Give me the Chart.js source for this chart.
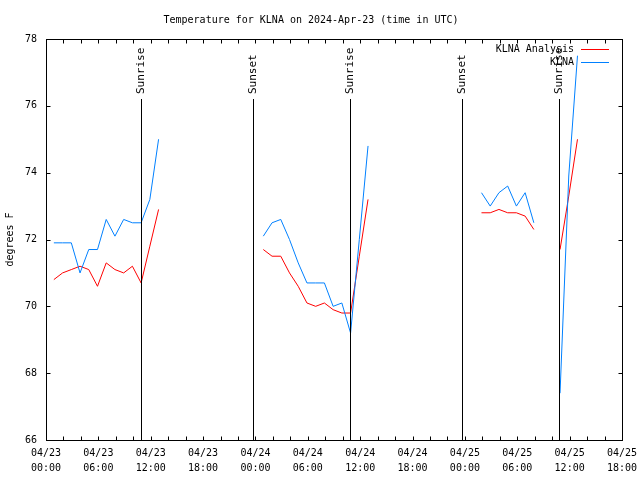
<!DOCTYPE html>
<html>
<head>
<meta charset="utf-8">
<title>Temperature for KLNA</title>
<script src="https://cdn.jsdelivr.net/npm/chart.js@4.4.1/dist/chart.umd.min.js"></script>
<style>
  body { margin: 0; background: #fff; }
  canvas { display: block; }
</style>
</head>
<body>
<canvas id="chart" width="640" height="480"></canvas>
<script>
// hours since 04/23 00:00 UTC, null temps = no data (breaks the line)
const hours = [
    0.9, 1.9, 2.9, 3.9, 4.9, 5.9, 6.9, 7.9, 8.9, 9.9, 10.9, 11.9, 12.9,
    18,
    24.9, 25.9, 26.9, 27.9, 28.9, 29.9, 30.9, 31.9, 32.9, 33.9, 34.9, 35.9, 36.9,
    42,
    49.9, 50.9, 51.9, 52.9, 53.9, 54.9, 55.9,
    57,
    58.9, 59.9, 60.9
];
const analysisTemps = [
    70.8, 71.0, 71.1, 71.2, 71.1, 70.6, 71.3, 71.1, 71.0, 71.2, 70.7, 71.8, 72.9,
    null,
    71.7, 71.5, 71.5, 71.0, 70.6, 70.1, 70.0, 70.1, 69.9, 69.8, 69.8, 71.5, 73.2,
    null,
    72.8, 72.8, 72.9, 72.8, 72.8, 72.7, 72.3,
    null,
    71.7, 73.3, 75.0
];
const obsTemps = [
    71.9, 71.9, 71.9, 71.0, 71.7, 71.7, 72.6, 72.1, 72.6, 72.5, 72.5, 73.2, 75.0,
    null,
    72.1, 72.5, 72.6, 72.0, 71.3, 70.7, 70.7, 70.7, 70.0, 70.1, 69.2, 72.0, 74.8,
    null,
    73.4, 73.0, 73.4, 73.6, 73.0, 73.4, 72.5,
    null,
    67.4, 73.9, 77.5
];
const sunriseHours = [10.92, 34.84, 58.81];
const sunsetHours = [23.72, 47.65];
const tickDates = ['04/23', '04/23', '04/23', '04/23', '04/24', '04/24', '04/24', '04/24', '04/25', '04/25', '04/25', '04/25'];
const tickTimes = ['00:00', '06:00', '12:00', '18:00', '00:00', '06:00', '12:00', '18:00', '00:00', '06:00', '12:00', '18:00'];

const mono = 'DejaVu Sans Mono';
Chart.defaults.color = '#000';
Chart.defaults.font.family = mono;
Chart.defaults.font.size = 10;

const toPoints = (temps) => hours.map((h, i) => ({ x: h, y: temps[i] }));

// frame, inward ticks, sunrise/sunset markers
const framePlugin = {
    id: 'frame',
    afterDatasetsDraw(chart) {
        const { ctx, chartArea: a, scales: { x, y } } = chart;
        ctx.save();
        ctx.strokeStyle = '#000';
        ctx.lineWidth = 1;

        const events = sunriseHours.map(h => [h, 'Sunrise']).concat(sunsetHours.map(h => [h, 'Sunset']));
        ctx.font = '11px ' + mono;
        ctx.fillStyle = '#000';
        events.forEach(([h, label]) => {
            const px = Math.round(x.getPixelForValue(h)) + 0.5;
            ctx.beginPath();
            ctx.moveTo(px, a.top + 60);
            ctx.lineTo(px, a.bottom);
            ctx.stroke();
            ctx.save();
            ctx.translate(px, a.top + 55);
            ctx.rotate(-Math.PI / 2);
            ctx.textAlign = 'left';
            ctx.textBaseline = 'middle';
            ctx.fillText(label, 0, 0);
            ctx.restore();
        });

        const l = Math.round(a.left) + 0.5, r = Math.round(a.right) + 0.5;
        const t = Math.round(a.top) + 0.5, b = Math.round(a.bottom) + 0.5;
        ctx.strokeRect(l, t, r - l, b - t);

        ctx.beginPath();
        for (let h = x.min; h <= x.max; h += 2) {
            const px = Math.round(x.getPixelForValue(h)) + 0.5;
            ctx.moveTo(px, b); ctx.lineTo(px, b - 4);
            ctx.moveTo(px, t); ctx.lineTo(px, t + 4);
        }
        y.ticks.forEach(tk => {
            const py = Math.round(y.getPixelForValue(tk.value)) + 0.5;
            ctx.moveTo(l, py); ctx.lineTo(l + 4, py);
            ctx.moveTo(r, py); ctx.lineTo(r - 4, py);
        });
        ctx.stroke();
        ctx.restore();
    },
    afterDraw(chart) {
        // gnuplot-style key: label right aligned, line sample to the right
        const { ctx, chartArea: a } = chart;
        ctx.save();
        ctx.font = '10px ' + mono;
        ctx.textAlign = 'right';
        ctx.textBaseline = 'middle';
        chart.data.datasets.forEach((ds, i) => {
            const py = Math.round(a.top + 10 + i * 13) + 0.5;
            ctx.fillStyle = '#000';
            ctx.fillText(ds.label, a.right - 48, py);
            ctx.strokeStyle = ds.borderColor;
            ctx.lineWidth = 1;
            ctx.beginPath();
            ctx.moveTo(a.right - 41, py);
            ctx.lineTo(a.right - 13, py);
            ctx.stroke();
        });
        ctx.restore();
    }
};

new Chart(document.getElementById('chart'), {
    type: 'line',
    data: {
        datasets: [
            {
                label: 'KLNA Analysis',
                data: toPoints(analysisTemps),
                borderColor: '#ff0000',
                borderWidth: 1,
                pointRadius: 0,
                tension: 0,
                spanGaps: false,
                order: 1
            },
            {
                label: 'KLNA',
                data: toPoints(obsTemps),
                borderColor: '#0080ff',
                borderWidth: 1,
                pointRadius: 0,
                tension: 0,
                spanGaps: false,
                order: 0
            }
        ]
    },
    options: {
        responsive: false,
        animation: false,
        devicePixelRatio: 1,
        layout: { padding: { left: 0, right: 18, top: 0, bottom: 0 } },
        plugins: {
            legend: { display: false },
            tooltip: { enabled: false },
            title: {
                display: true,
                text: 'Temperature for KLNA on 2024-Apr-23 (time in UTC)',
                font: { family: mono, size: 10, weight: 'normal' },
                padding: { top: 14, bottom: 13 }
            }
        },
        scales: {
            x: {
                type: 'linear',
                min: 0,
                max: 66,
                grid: { display: false, drawTicks: false },
                border: { display: false },
                ticks: {
                    stepSize: 6,
                    autoSkip: false,
                    maxRotation: 0,
                    padding: 6,
                    font: { family: mono, size: 10, lineHeight: 1.5 },
                    callback: (v, i) => [tickDates[i], tickTimes[i]]
                },
                afterFit(scale) {
                    scale.height = 40;
                    scale.paddingLeft = 0;
                    scale.paddingRight = 0;
                }
            },
            y: {
                min: 66,
                max: 78,
                grid: { display: false, drawTicks: false },
                border: { display: false },
                ticks: { stepSize: 2, padding: 9, font: { family: mono, size: 10 } },
                title: {
                    display: true,
                    text: 'degrees F',
                    font: { family: mono, size: 10 },
                    padding: { top: 4, bottom: 0 }
                },
                afterFit(scale) { scale.width = 46; }
            }
        }
    },
    plugins: [framePlugin]
});
</script>
</body>
</html>
